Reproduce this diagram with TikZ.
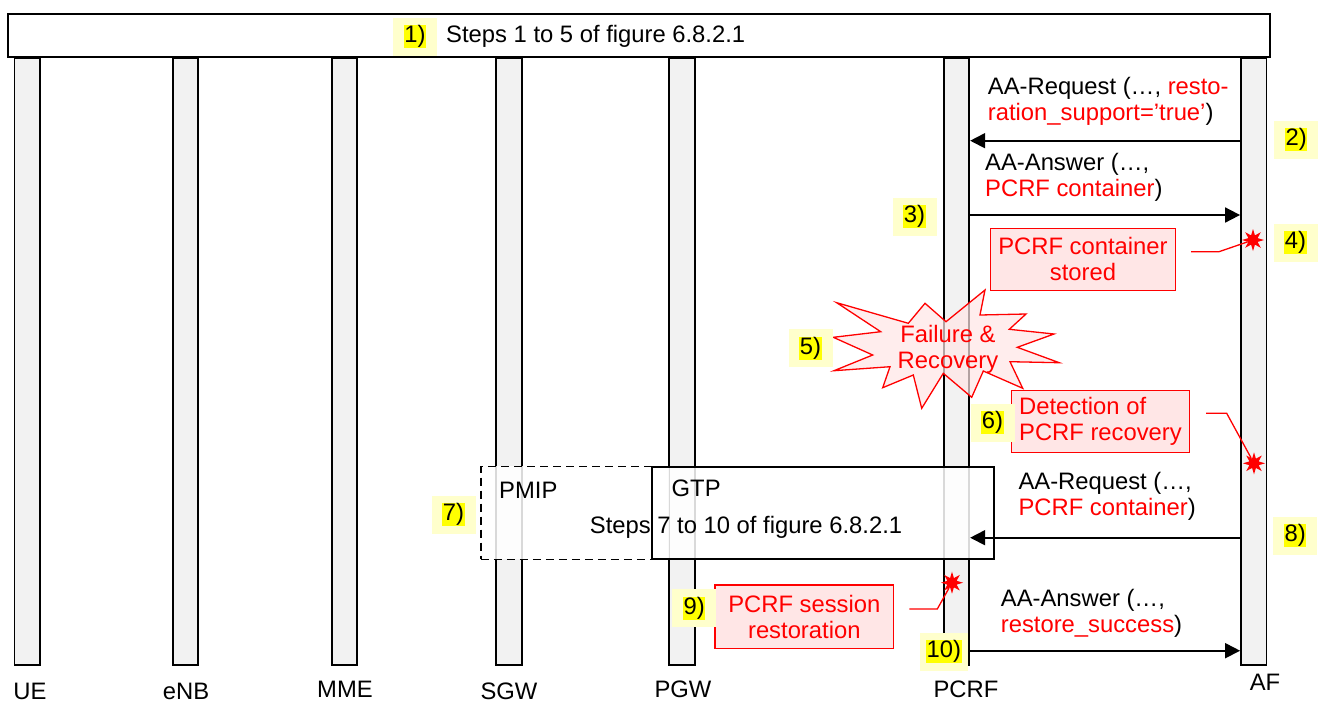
\documentclass[tikz,border=0pt]{standalone}
\usepackage{fontspec}
\setmainfont{Liberation Sans}
\usepackage{tikz}
\usetikzlibrary{arrows.meta, shapes.geometric}
\usepackage{xcolor}
\definecolor{lanegray}{HTML}{F2F2F2}
\definecolor{notered}{HTML}{FF0000}
\definecolor{notefill}{HTML}{FFE6E6}
\definecolor{hlpale}{HTML}{FFFFCC}
\definecolor{hlyellow}{HTML}{FFFF00}
\newcommand{\stepmark}[1]{{\setlength{\fboxsep}{0.5pt}\colorbox{hlyellow}{#1}}}

\begin{document}
\begin{tikzpicture}[x=1pt, y=-1pt,
      font=\fontsize{23.8}{26}\selectfont,
      lane/.style={draw, line width=1.8pt, fill=lanegray, minimum width=25.5pt, minimum height=606.4pt, inner sep=0},
      lanename/.style={inner sep=0},
      stepno/.style={fill=hlpale, minimum width=44pt, minimum height=38pt, inner xsep=6pt, inner ysep=0},
      note/.style={draw=notered, line width=1.3pt, fill=notefill, text=notered, align=center, inner sep=0},
      msg/.style={line width=1.8pt, -{Triangle[length=15pt, width=15pt]}},
      link/.style={draw=notered, line width=1.3pt},
      hit/.style={star, star points=8, star point ratio=2.2, fill=notered, minimum size=22pt, inner sep=0},
      lbl/.style={anchor=north west, align=left, inner sep=0}
    ]
      \useasboundingbox (0,0) rectangle (1320,702);

      \node[lane] (ue) at (27.25,361.6) {};
      \node[lane] (enb) at (185.5,361.6) {};
      \node[lane] (mme) at (344.5,361.6) {};
      \node[lane] (sgw) at (509,361.6) {};
      \node[lane] (pgw) at (682,361.6) {};
      \node[lane] (pcrf) at (956.5,361.6) {};
      \node[lane] (af) at (1253.75,361.6) {};

      \node[lanename] (uelbl) at (30,691) {UE};
      \node[lanename] (enblbl) at (186,691) {eNB};
      \node[lanename] (mmelbl) at (345,689) {MME};
      \node[lanename] (sgwlbl) at (509,691) {SGW};
      \node[lanename] (pgwlbl) at (683,689) {PGW};
      \node[lanename] (pcrflbl) at (966,689) {PCRF};
      \node[lanename] (aflbl) at (1265,682) {AF};

      \node[draw, line width=1.8pt, fill=white, minimum width=1262.5pt, minimum height=42.7pt] (top) at (638.9,35.25) {};
      \node[anchor=west, inner sep=0] (toptxt) at (446,36) {Steps 1 to 5 of figure 6.8.2.1};

      \node[note, minimum width=184.7pt, minimum height=62pt] (stored) at (1083,259.4) {PCRF container\\stored};
      \node[note, align=left, minimum width=177.7pt, minimum height=62pt] (detect) at (1100.5,421.7) {Detection of\\PCRF recovery};
      \node[note, minimum width=178.7pt, minimum height=63.4pt] (restore) at (804.3,616.7) {PCRF session\\restoration};

      \draw[line width=1.3pt, draw=notered, fill=notefill, fill opacity=0.7]
        (985,290) -- (980,315) -- (1026,314) -- (1009.3,329.3) -- (1054,334) -- (1017.3,347.3)
        -- (1059.3,362.7) -- (1010,361.7) -- (1022.7,388.3) -- (983.3,371) -- (971.7,397.3)
        -- (943.3,373.3) -- (921.7,408.3) -- (913.3,375) -- (882.7,387.7) -- (890,366.7)
        -- (834,370.7) -- (872.7,355) -- (833.3,337.3) -- (880.7,331.7) -- (836.7,302.7)
        -- (908.3,323.3) -- (925,303.3) -- (946,321.7) -- cycle;
      \node[text=notered, align=center, inner sep=0] (fail) at (948,349) {Failure \&\\Recovery};

      \node[draw, dash pattern=on 8pt off 5pt, line width=1.5pt, fill=white, fill opacity=0.85, minimum width=188.5pt, minimum height=92.8pt] (pmip) at (575,512.85) {};
      \node[draw, line width=1.8pt, fill=white, fill opacity=0.85, minimum width=342.5pt, minimum height=92.5pt] (gtp) at (822.85,512.85) {};
      \node[anchor=west, inner sep=0] (pmiptxt) at (499,490) {PMIP};
      \node[anchor=west, inner sep=0] (gtptxt) at (671.5,488) {GTP};
      \node[inner sep=0] (steps7) at (746,527.5) {Steps 7 to 10 of figure 6.8.2.1};

      \draw[msg] (af.west |- 0,140.7) -- (pcrf.east |- 0,140.7);
      \draw[msg] (pcrf.east |- 0,215) -- (af.west |- 0,215);
      \draw[msg] (af.west |- 0,537.7) -- (pcrf.east |- 0,537.7);
      \draw[msg] (pcrf.east |- 0,650.7) -- (af.west |- 0,650.7);

      \node[lbl] (req2) at (987.7,77.5) {AA-Request (…, \textcolor{notered}{resto-}\\\textcolor{notered}{ration\_support=’true’})};
      \node[lbl] (ans3) at (985,153.5) {AA-Answer (…,\\\textcolor{notered}{PCRF container})};
      \node[lbl] (req8) at (1018.3,472.5) {AA-Request (…,\\\textcolor{notered}{PCRF container})};
      \node[lbl] (ans10) at (1000.7,589) {AA-Answer (…,\\\textcolor{notered}{restore\_success})};

      \node[stepno] (s1) at (415,36.5) {\stepmark{1)}};
      \node[stepno] (s2) at (1296.3,139.5) {\stepmark{2)}};
      \node[stepno] (s3) at (914.5,216.5) {\stepmark{3)}};
      \node[stepno] (s4) at (1295.5,242.5) {\stepmark{4)}};
      \node[stepno] (s5) at (810.5,348.3) {\stepmark{5)}};
      \node[stepno] (s6) at (992.5,422.5) {\stepmark{6)}};
      \node[stepno] (s7) at (453.5,514.5) {\stepmark{7)}};
      \node[stepno] (s8) at (1295.3,535.5) {\stepmark{8)}};
      \node[stepno] (s9) at (694.2,608.2) {\stepmark{9)}};
      \node[stepno] (s10) at (943.8,651.7) {\stepmark{10)}};

      \node[hit] (hit4) at (1253,240) {};
      \node[hit] (hit6) at (1254,463.3) {};
      \node[hit] (hit9) at (952,582.7) {};
      \draw[link] ([shift={(15,-7.7)}]stored.east) -- ++(28,0) -- (hit4);
      \draw[link] ([shift={(16,-8.4)}]detect.east) -- ++(20.7,0) -- (hit6);
      \draw[link] ([shift={(15,-7.7)}]restore.east) -- ++(28,0) -- (hit9);
    \end{tikzpicture}
\end{document}
